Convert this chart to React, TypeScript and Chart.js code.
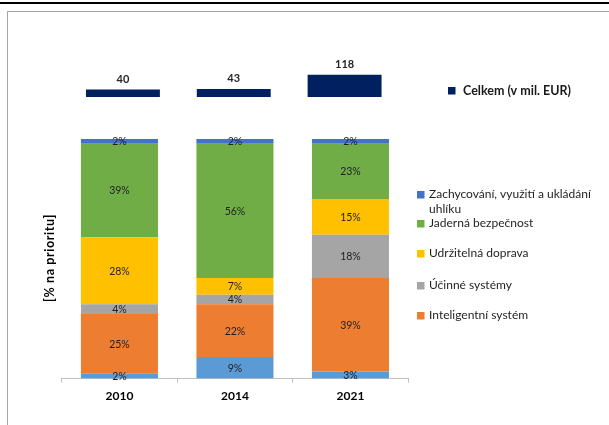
import React, { useEffect, useRef } from "react";
import { Chart, registerables } from "chart.js";

Chart.register(...registerables);

const years = ["2010", "2014", "2021"];
const totals = [40, 43, 118];
const totalLabel = "Celkem (v mil. EUR)";

const ostatni = [2, 9, 3];
const inteligentni = [25, 22, 39];
const ucinne = [4, 4, 18];
const doprava = [28, 7, 15];
const jaderna = [39, 56, 23];
const zachycovani = [2, 2, 2];

const yTitle = "[% na prioritu]";
const FONT = "Lato, 'Liberation Sans', sans-serif";

type Series = { label: string; data: number[]; color: string; legend: string[] | null };

const series: Series[] = [
  { label: "Ostatní", data: ostatni, color: "#5B9BD5", legend: null },
  { label: "Inteligentní systém", data: inteligentni, color: "#ED7D31", legend: ["Inteligentní systém"] },
  { label: "Účinné systémy", data: ucinne, color: "#A5A5A5", legend: ["Účinné systémy"] },
  { label: "Udržitelná doprava", data: doprava, color: "#FFC000", legend: ["Udržitelná doprava"] },
  { label: "Jaderná bezpečnost", data: jaderna, color: "#70AD47", legend: ["Jaderná bezpečnost"] },
  {
    label: "Zachycování, využití a ukládání uhlíku",
    data: zachycovani,
    color: "#4472C4",
    legend: ["Zachycování, využití a ukládání", "uhlíku"],
  },
];

const TOP_Y = 40;
const BOT_Y = 120;

export default function App() {
  const topRef = useRef<HTMLCanvasElement>(null);
  const botRef = useRef<HTMLCanvasElement>(null);

  useEffect(() => {
    const topPlugin = {
      id: "topLabels",
      afterDatasetsDraw(chart: any) {
        const ctx = chart.ctx;
        const meta = chart.getDatasetMeta(0);
        ctx.save();
        ctx.font = `bold 11px ${FONT}`;
        ctx.fillStyle = "#262626";
        ctx.textAlign = "center";
        ctx.textBaseline = "middle";
        meta.data.forEach((el: any, i: number) => {
          ctx.fillText(String(totals[i]), el.x, el.y - 10.5);
        });
        // legend
        const ly = 90.5 - TOP_Y;
        ctx.fillStyle = "#002060";
        ctx.fillRect(448, ly - 3.5, 7.5, 7.5);
        ctx.font = `bold 12.5px ${FONT}`;
        ctx.fillStyle = "#1a1a1a";
        ctx.textAlign = "left";
        ctx.fillText(totalLabel, 463, ly);
        ctx.restore();
      },
    };

    const top = new Chart(topRef.current!, {
      type: "bar",
      data: {
        labels: years,
        datasets: [
          {
            label: totalLabel,
            data: totals,
            backgroundColor: "#002060",
            barPercentage: 0.667,
            categoryPercentage: 1,
          },
        ],
      },
      options: {
        responsive: false,
        animation: false,
        layout: { padding: { left: 67.5, right: 609 - 400, top: 10, bottom: 23 } },
        scales: {
          x: { display: false },
          y: { display: false, min: 0, max: 250 },
        },
        plugins: { legend: { display: false }, tooltip: { enabled: false } },
      },
      plugins: [topPlugin],
    });

    const botPlugin = {
      id: "botLabels",
      afterDatasetsDraw(chart: any) {
        const ctx = chart.ctx;
        ctx.save();
        ctx.font = `10.5px ${FONT}`;
        ctx.fillStyle = "#1f1f1f";
        ctx.textAlign = "center";
        ctx.textBaseline = "middle";
        chart.data.datasets.forEach((ds: any, di: number) => {
          const meta = chart.getDatasetMeta(di);
          meta.data.forEach((el: any, i: number) => {
            const v = ds.data[i];
            ctx.fillText(`${v}%`, el.x, (el.y + el.base) / 2 + 0.5);
          });
        });
        // y title
        ctx.save();
        ctx.font = `bold 12.5px ${FONT}`;
        ctx.fillStyle = "#000";
        ctx.translate(50, 258 - BOT_Y);
        ctx.rotate(-Math.PI / 2);
        ctx.textAlign = "center";
        (ctx as any).letterSpacing = "0.6px";
        ctx.fillText(yTitle, 0, 0);
        ctx.restore();
        // legend
        const rows: { y: number; lines: string[]; color: string }[] = [];
        const ys = [194, 223, 253, 285, 315];
        const legendSeries = series.filter((s) => s.legend).reverse();
        legendSeries.forEach((s, i) => rows.push({ y: ys[i], lines: s.legend!, color: s.color }));
        ctx.font = `12px ${FONT}`;
        ctx.textAlign = "left";
        rows.forEach((r) => {
          const y = r.y - BOT_Y;
          ctx.fillStyle = r.color;
          ctx.fillRect(417, y - 3, 7.5, 7.5);
          ctx.fillStyle = "#1f1f1f";
          r.lines.forEach((ln, k) => ctx.fillText(ln, 429, y + k * 15));
        });
        ctx.restore();
      },
    };

    const bot = new Chart(botRef.current!, {
      type: "bar",
      data: {
        labels: years,
        datasets: series.map((s) => ({
          label: s.label,
          data: s.data,
          backgroundColor: s.color,
          barPercentage: 0.667,
          categoryPercentage: 1,
        })),
      },
      options: {
        responsive: false,
        animation: false,
        layout: { padding: { left: 61.7, right: 609 - 408.2, top: 19, bottom: 16 } },
        scales: {
          x: {
            stacked: true,
            grid: {
              display: true,
              drawOnChartArea: false,
              drawTicks: true,
              tickLength: 4,
              color: "#BFBFBF",
              offset: true,
            },
            border: { display: true, color: "#BFBFBF" },
            ticks: {
              font: { family: FONT, size: 12, weight: "bold" },
              color: "#000",
              padding: 6,
            },
          },
          y: { stacked: true, display: false, min: 0, max: 100 },
        },
        plugins: { legend: { display: false }, tooltip: { enabled: false } },
      },
      plugins: [botPlugin],
    });

    return () => {
      top.destroy();
      bot.destroy();
    };
  }, []);

  return (
    <div
      style={{
        position: "absolute",
        left: 0,
        top: 0,
        width: 609,
        height: 425,
        overflow: "hidden",
        background: "#fff",
      }}
    >
      <div style={{ position: "absolute", left: 0, top: 2, width: 609, height: 1.5, background: "#000" }} />
      <div
        style={{
          position: "absolute",
          left: 7,
          top: 11,
          width: 800,
          height: 600,
          borderTop: "1px solid #A6A6A6",
          borderLeft: "1px solid #A6A6A6",
        }}
      />
      <canvas
        ref={topRef}
        width={609}
        height={80}
        style={{ position: "absolute", left: 0, top: TOP_Y, width: 609, height: 80 }}
      />
      <canvas
        ref={botRef}
        width={609}
        height={305}
        style={{ position: "absolute", left: 0, top: BOT_Y, width: 609, height: 305 }}
      />
    </div>
  );
}
